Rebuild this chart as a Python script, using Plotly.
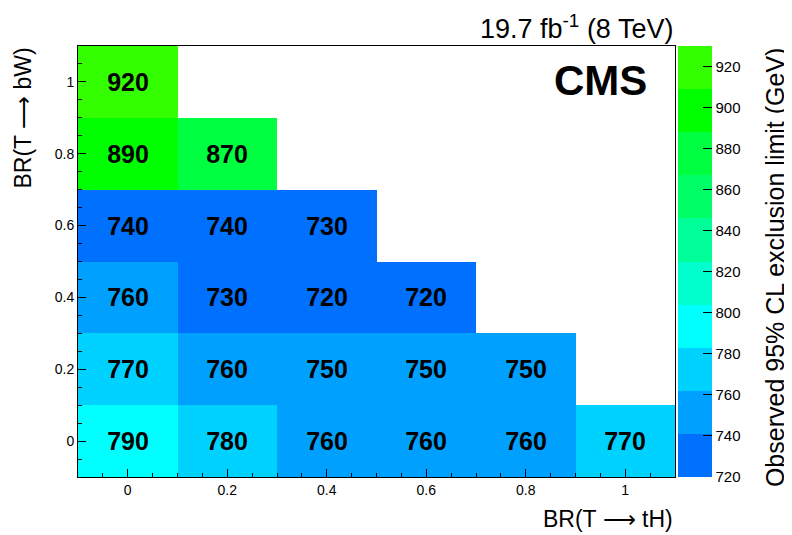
import plotly.graph_objects as go

br_tH = [0.0, 0.2, 0.4, 0.6, 0.8, 1.0]
br_bW = [0.0, 0.2, 0.4, 0.6, 0.8, 1.0]
row_bW_00 = [790, 780, 760, 760, 760, 770]
row_bW_02 = [770, 760, 750, 750, 750, None]
row_bW_04 = [760, 730, 720, 720, None, None]
row_bW_06 = [740, 740, 730, None, None, None]
row_bW_08 = [890, 870, None, None, None, None]
row_bW_10 = [920, None, None, None, None, None]
z = [row_bW_00, row_bW_02, row_bW_04, row_bW_06, row_bW_08, row_bW_10]

zmin, zmax = 720, 930
band_colors = ["#0070FF", "#00A0FF", "#00D2FF", "#00FFFF", "#00FFCC",
               "#00FF99", "#00FF66", "#00FF40", "#00FF00", "#33FF00"]
n = len(band_colors)
cs = []
for i, c in enumerate(band_colors):
    cs.append([i / n, c])
    cs.append([(i + 1) / n, c])

FONT = "Liberation Sans, Arial"
W, H = 784, 527  # page body has an 8px margin

fig = go.Figure(go.Heatmap(
    x=br_tH, y=br_bW, z=z, zmin=zmin, zmax=zmax, colorscale=cs,
    texttemplate="<b>%{z}</b>",
    textfont=dict(family=FONT, size=25, color="black"),
    hoverongaps=False,
    colorbar=dict(
        xref="container", x=670 / W, xanchor="left",
        y=0.5, yanchor="middle", len=1.0, lenmode="fraction",
        thickness=34, thicknessmode="pixels", outlinewidth=0,
        tickvals=list(range(720, 921, 20)), ticks="inside", ticklen=9,
        tickcolor="black", tickwidth=1,
        tickfont=dict(family=FONT, size=15, color="black"),
        xpad=0, ypad=0,
    ),
))

axis_common = dict(
    showgrid=False, zeroline=False, showline=True, linecolor="black", linewidth=1,
    mirror=True, ticks="inside", ticklen=8, tickcolor="black",
    tickfont=dict(family=FONT, size=14, color="black"),
    minor=dict(ticks="inside", ticklen=4, dtick=0.05, tickcolor="black"),
    tickvals=[0, 0.2, 0.4, 0.6, 0.8, 1], ticktext=["0", "0.2", "0.4", "0.6", "0.8", "1"],
)
fig.update_xaxes(range=[-0.1, 1.1], **axis_common)
fig.update_yaxes(range=[-0.1, 1.1], **axis_common)

fig.update_layout(
    width=W, height=H,
    margin=dict(l=70, r=117, t=38, b=58, autoexpand=False),
    paper_bgcolor="white", plot_bgcolor="white",
    font=dict(family=FONT, color="black"),
    annotations=[
        dict(text="BR(T \u27F6 tH)", xref="paper", yref="paper", x=1,
             y=0, xanchor="right", yanchor="top", yshift=-27, showarrow=False,
             font=dict(size=23)),
        dict(text="BR(T \u27F6 bW)", xref="paper", yref="paper", x=0, xshift=-56,
             y=1, yanchor="top", xanchor="center", textangle=-90, showarrow=False,
             font=dict(size=23)),
        dict(text="Observed 95% CL exclusion limit (GeV)", xref="paper",
             yref="paper", x=(767 - 70) / 597, y=0.487, xanchor="center",
             yanchor="middle", textangle=-90, showarrow=False, font=dict(size=25)),
        dict(text="19.7 fb<sup>-1</sup> (8 TeV)", xref="paper", yref="paper", x=1,
             y=1, yanchor="bottom", xanchor="right", yshift=0, showarrow=False,
             font=dict(size=27)),
        dict(text="<b>CMS</b>", xref="paper", yref="paper", x=(649 - 78) / 597,
             y=(477 - 80) / 431, xanchor="right", yanchor="middle", showarrow=False,
             font=dict(size=42)),
    ],
)

fig.write_html("out.html")
